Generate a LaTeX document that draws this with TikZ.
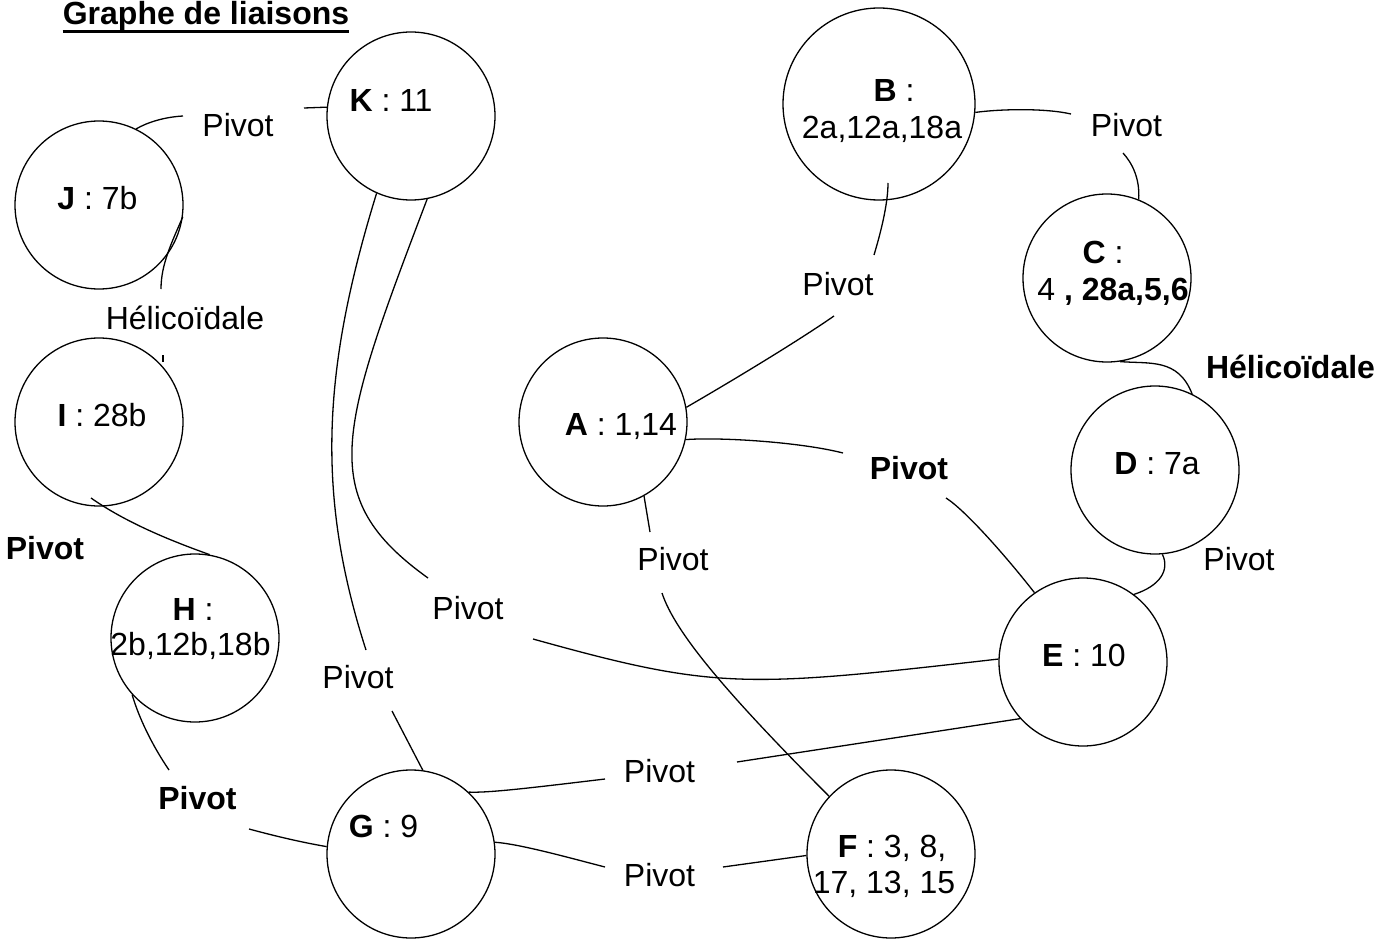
\documentclass[tikz,border=0pt]{standalone}
\usepackage{fontspec}
\setmainfont{Liberation Sans}
\begin{document}
\begin{tikzpicture}[x=1pt,y=-1pt,font=\fontsize{32}{38}\selectfont,
  circ/.style={circle,draw,line width=1.3pt,minimum size=168pt,inner sep=0pt},
  bigcirc/.style={circ,minimum size=192pt},
  txt/.style={inner sep=0pt,anchor=base},
  lk/.style={line width=1.3pt}]
\useasboundingbox (0,0) rectangle (1393,939);
% circles
\node[circ] (K) at (411,116) {};
\node[circ] (J) at (99,205) {};
\node[circ] (I) at (99,422) {};
\node[circ] (H) at (195,638) {};
\node[circ] (G) at (411,854) {};
\node[bigcirc] (B) at (879,104) {};
\node[circ] (C) at (1107,278) {};
\node[circ] (D) at (1155,470) {};
\node[circ] (A) at (603,422) {};
\node[circ] (E) at (1083,662) {};
\node[circ] (F) at (891,854) {};
% texts
\node[txt] (title) at (206,25) {\textbf{Graphe de liaisons}};
\draw[line width=3pt] ([yshift=-6.3pt]title.base west) -- ([yshift=-6.3pt]title.base east);
\node[txt] (Kt) at (391,112) {\textbf{K} : 11};
\node[txt] (Jt) at (97.5,210) {\textbf{J} : 7b};
\node[txt] (It) at (102,426) {\textbf{I} : 28b};
\node[txt] (Ht1) at (193,620) {\textbf{H} :};
\node[txt] (Ht2) at (190.5,655) {2b,12b,18b};
\node[txt] (Gt) at (383.5,837) {\textbf{G} : 9};
\node[txt] (Bt1) at (894,102) {\textbf{B} :};
\node[txt] (Bt2) at (882,139) {2a,12a,18a};
\node[txt] (Ct1) at (1103,263) {\textbf{C} :};
\node[txt] (Ct2) at (1113,300) {4 \textbf{, 28a,5,6}};
\node[txt] (Dt) at (1157,474) {\textbf{D} : 7a};
\node[txt] (At) at (621,435) {\textbf{A} : 1,14};
\node[txt] (Et) at (1084,666) {\textbf{E} : 10};
\node[txt] (Ft1) at (892,857) {\textbf{F} : 3, 8,};
\node[txt] (Ft2) at (884,893) {17, 13, 15};
% link labels
\node[txt] (pJK) at (238,137) {Pivot};
\node[txt] (hJI) at (185,329) {Hélicoïdale};
\node[txt] (pIH) at (45,559) {\textbf{Pivot}};
\node[txt] (pKG) at (358,688) {Pivot};
\node[txt] (pKE) at (468,619) {Pivot};
\node[txt] (pHG) at (197.5,809) {\textbf{Pivot}};
\node[txt] (pAB) at (838,295) {Pivot};
\node[txt] (pBC) at (1126.5,137) {Pivot};
\node[txt] (hCD) at (1290.5,378) {\textbf{Hélicoïdale}};
\node[txt] (pDE) at (1239,570) {Pivot};
\node[txt] (pAE) at (909,479) {\textbf{Pivot}};
\node[txt] (pAF) at (673,570) {Pivot};
\node[txt] (pGE) at (659.5,782) {Pivot};
\node[txt] (pGF) at (659.5,886) {Pivot};
% free ends
\coordinate (jk1) at (183,116);
\coordinate (jk2) at (304,108);
\coordinate (ji1) at (161,289);
\coordinate (ji2) at (163,355);
\coordinate (ji3) at (163,362);
\coordinate (ih1) at (91,498);
\coordinate (hg1) at (169,770);
\coordinate (hg2) at (249,829);
\coordinate (kg1) at (366,650);
\coordinate (kg2) at (392,711);
\coordinate (ke1) at (428,578);
\coordinate (ke2) at (533,639);
\coordinate (ab1) at (834,316);
\coordinate (ab2) at (874,255);
\coordinate (ab3) at (888,183);
\coordinate (bc1) at (1071,114);
\coordinate (bc2) at (1123,153);
\coordinate (ae1) at (843,453);
\coordinate (ae2) at (946,498);
\coordinate (af1) at (650,532);
\coordinate (af2) at (662,593);
\coordinate (ge1) at (605,779);
\coordinate (ge2) at (737,762);
\coordinate (gf1) at (605,867);
\coordinate (gf2) at (723,867);
% connectors
\draw[lk] (J.64) .. controls (148,122) and (165,117) .. (jk1);
\draw[lk] (jk2) -- (K.174);
\draw[lk] (J.-8) .. controls (172,242) and (161,264) .. (ji1);
\draw[lk] (ji2) -- (ji3);
\draw[lk] (ih1) .. controls (121,519) and (160,537) .. (H.80);
\draw[lk] (H.222) .. controls (139,718) and (152,745) .. (hg1);
\draw[lk] (hg2) .. controls (275,836) and (300,842) .. (G.175);
\draw[lk] (K.246) .. controls (322,370) and (316,495) .. (kg1);
\draw[lk] (kg2) -- (G.82);
\draw[lk] (K.281) .. controls (339,431) and (315,497) .. (ke1);
\draw[lk] (ke2) .. controls (716,690) and (744,688) .. (E.178);
\draw[lk] (A.10) .. controls (730,382) and (795,343) .. (ab1);
\draw[lk] (ab2) .. controls (880,235) and (888,205) .. (ab3);
\draw[lk] (B.-5) .. controls (1000,109) and (1045,108) .. (bc1);
\draw[lk] (bc2) .. controls (1132,163) and (1140,178) .. (C.68);
\draw[lk] (C.279) .. controls (1150,364) and (1178,358) .. (D.64);
\draw[lk] (D.275) .. controls (1170,570) and (1160,586) .. (E.53);
\draw[lk] (A.-12) .. controls (720,437) and (800,442) .. (ae1);
\draw[lk] (ae2) .. controls (965,510) and (1005,555) .. (E.125);
\draw[lk] (A.-61) -- (af1);
\draw[lk] (af2) .. controls (675,633) and (729,696) .. (F.137);
\draw[lk] (G.47) .. controls (488,793) and (530,788) .. (ge1);
\draw[lk] (ge2) -- (E.222);
\draw[lk] (G.8) .. controls (520,844) and (570,858) .. (gf1);
\draw[lk] (gf2) -- (F.181);
\end{tikzpicture}
\end{document}
